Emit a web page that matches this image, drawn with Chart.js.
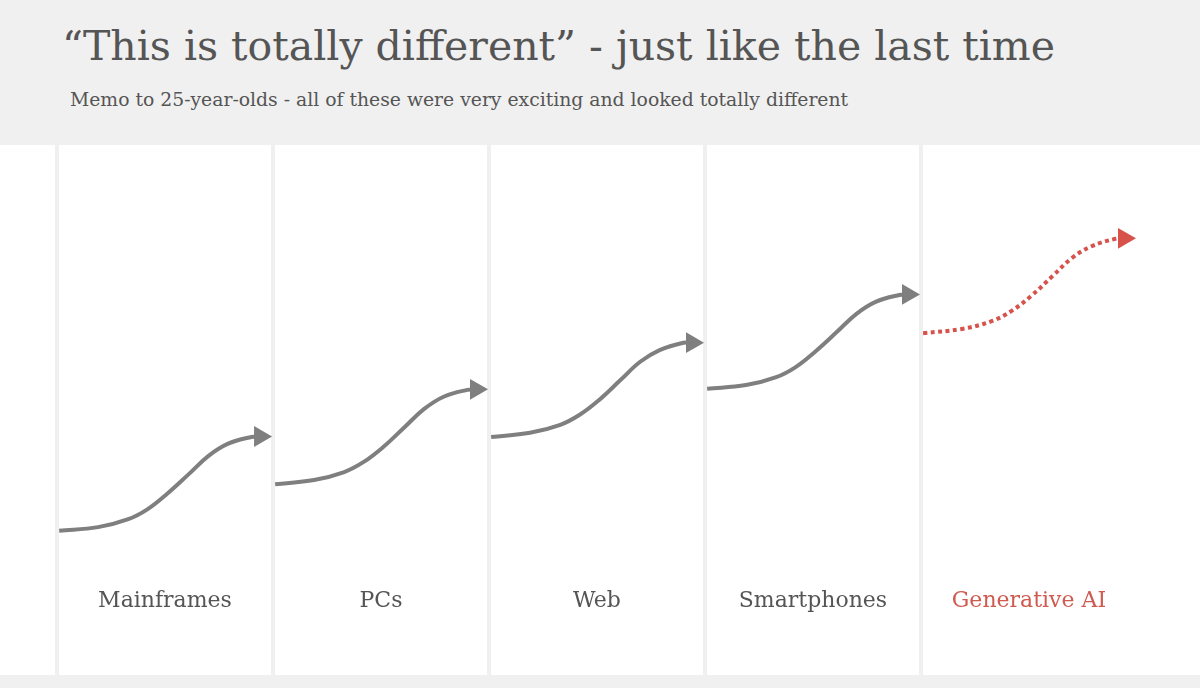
<!DOCTYPE html>
<html>
<head>
<meta charset="utf-8">
<script src="https://cdn.jsdelivr.net/npm/chart.js@4/dist/chart.umd.min.js"></script>
<style>
  html, body { margin: 0; padding: 0; background: #fff; }
  #page { position: relative; width: 1200px; height: 688px; overflow: hidden; font-family: "DejaVu Serif", serif; }
  #header { position: absolute; left: 0; top: 0; width: 1200px; height: 145px; background: #f0f0f0; }
  #title { position: absolute; left: 62px; top: 22px; font-size: 41px; line-height: 48px; color: #555; white-space: nowrap; }
  #subtitle { position: absolute; left: 70px; top: 89px; font-size: 18.8px; line-height: 22px; color: #555; white-space: nowrap; }
  #wrap { position: absolute; left: 0; top: 145px; width: 1200px; height: 530px; }
  #footer { position: absolute; left: 0; top: 675px; width: 1200px; height: 13px; background: #f0f0f0; }
</style>
</head>
<body>
<div id="page">
  <div id="header">
    <div id="title">“This is totally different” - just like the last time</div>
    <div id="subtitle">Memo to 25-year-olds - all of these were very exciting and looked totally different</div>
  </div>
  <div id="wrap"><canvas id="waves"></canvas></div>
  <div id="footer"></div>
</div>
<script>
// eras, one column each
const categories = ['Mainframes', 'PCs', 'Web', 'Smartphones', 'Generative AI'];

// x positions (in columns) and "excitement" level
const mainframesX = [0.01, 0.19, 0.33, 0.42, 0.51, 0.61, 0.70, 0.79, 0.90, 0.94];
const mainframesY = [27.2, 27.9, 29.4, 31.3, 34.2, 37.9, 41.3, 43.6, 44.9, 45.0];
const pcsX = [1.01, 1.19, 1.33, 1.42, 1.51, 1.61, 1.70, 1.79, 1.90, 1.94];
const pcsY = [36.0, 36.8, 38.3, 40.2, 43.0, 46.8, 50.2, 52.5, 53.8, 53.9];
const webX = [2.01, 2.19, 2.33, 2.42, 2.51, 2.61, 2.70, 2.79, 2.90, 2.94];
const webY = [44.9, 45.7, 47.2, 49.1, 51.9, 55.7, 59.1, 61.3, 62.7, 62.7];
const smartphonesX = [3.01, 3.19, 3.33, 3.42, 3.51, 3.61, 3.70, 3.79, 3.90, 3.94];
const smartphonesY = [54.0, 54.7, 56.2, 58.1, 61.0, 64.7, 68.1, 70.4, 71.7, 71.8];
const genAiX = [4.01, 4.19, 4.33, 4.42, 4.51, 4.61, 4.70, 4.79, 4.90, 4.94];
const genAiY = [64.5, 65.3, 66.8, 68.7, 71.5, 75.3, 78.7, 80.9, 82.3, 82.4];

const GREY = '#7f7f7f';
const RED = '#d6524a';
const LABEL_GREY = '#555555';
const LABEL_RED = '#cf5a50';

function pts(xs, ys) {
  return xs.map((x, i) => ({ x: x, y: ys[i] }));
}

function curve(name, xs, ys, color, dashed) {
  const n = xs.length;
  return {
    label: name,
    data: pts(xs, ys),
    xAxisID: 'x',
    yAxisID: 'y',
    showLine: true,
    borderColor: color,
    backgroundColor: color,
    borderWidth: 4,
    borderDash: dashed ? [4, 3.5] : [],
    borderCapStyle: 'butt',
    tension: 0.4,
    pointStyle: 'triangle',
    pointRotation: 90,
    pointRadius: ctx => ctx.dataIndex === n - 1 ? 12 : 0,
    pointBorderWidth: 0,
    pointBackgroundColor: color,
    pointBorderColor: color
  };
}

const ctx = document.getElementById('waves').getContext('2d');
new Chart(ctx, {
  type: 'scatter',
  data: {
    datasets: [
      curve('Mainframes', mainframesX, mainframesY, GREY, false),
      curve('PCs', pcsX, pcsY, GREY, false),
      curve('Web', webX, webY, GREY, false),
      curve('Smartphones', smartphonesX, smartphonesY, GREY, false),
      curve('Generative AI', genAiX, genAiY, RED, true)
    ]
  },
  options: {
    responsive: true,
    maintainAspectRatio: false,
    animation: false,
    events: [],
    layout: { padding: 0, autoPadding: false },
    plugins: { legend: { display: false }, tooltip: { enabled: false } },
    scales: {
      x: {
        type: 'linear',
        min: -0.264,
        max: 5.292,
        afterBuildTicks: s => { s.ticks = categories.map((c, i) => ({ value: i })); },
        afterFit: s => { s.height = 0; },
        ticks: { display: false },
        border: { display: false },
        grid: { color: '#f0f0f0', lineWidth: 4, drawTicks: false }
      },
      names: {
        type: 'linear',
        axis: 'x',
        position: { y: 16.4 },
        min: -0.264,
        max: 5.292,
        afterBuildTicks: s => { s.ticks = categories.map((c, i) => ({ value: i + 0.5 })); },
        afterFit: s => { s.height = 0; },
        border: { display: false },
        grid: { display: false, drawTicks: false },
        ticks: {
          autoSkip: false,
          maxRotation: 0,
          padding: 0,
          callback: (v, i) => categories[i],
          color: c => c.index === categories.length - 1 ? LABEL_RED : LABEL_GREY,
          font: { family: '"DejaVu Serif", serif', size: 22 }
        }
      },
      y: {
        type: 'linear',
        min: 0,
        max: 100,
        display: false
      }
    }
  }
});
</script>
</body>
</html>
